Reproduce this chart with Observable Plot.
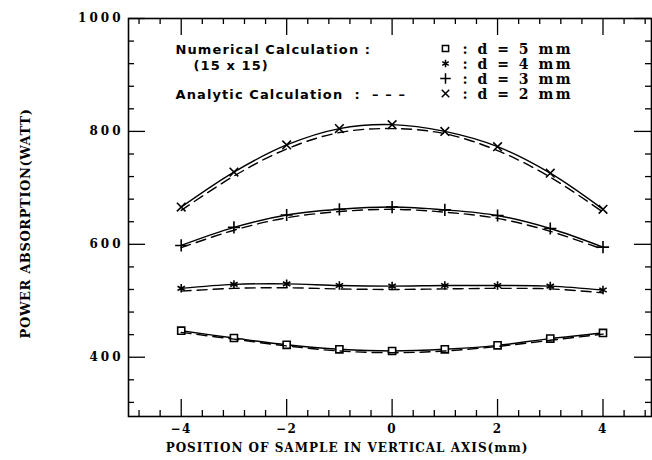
<!DOCTYPE html>
<html><head><meta charset="utf-8">
<script src="https://cdn.jsdelivr.net/npm/d3@7"></script>
<script src="https://cdn.jsdelivr.net/npm/@observablehq/plot@0.6"></script>
<style>
body{margin:0;background:#fff}
#chart{position:relative;width:652px;height:460px}
.lg-left text{letter-spacing:1.1px}
.lg-right text{letter-spacing:2.5px}
.ylab text{letter-spacing:3px}
g[aria-label="x-axis tick label"] text{letter-spacing:1.5px}
.xtitle text{letter-spacing:1px}
.ytitle text{letter-spacing:0.6px}
</style>
</head><body><div id="chart"></div>
<script>
// x positions (mm)
const positions = [-4, -3, -2, -1, 0, 1, 2, 3, 4];
// Numerical calculation (15 x 15)
const numD2 = [666, 728, 776, 805, 812, 800, 773, 726, 662];
const numD3 = [598, 630, 652, 662, 666, 661, 651, 628, 595];
const numD4 = [522, 529, 530, 527, 526, 527, 527, 526, 519];
const numD5 = [447, 434, 422, 414, 411, 414, 421, 433, 443];
// Analytic calculation
const anaD2 = [660, 721, 769, 798, 805, 796, 766, 719, 657];
const anaD3 = [594, 625, 647, 658, 662, 657, 646, 623, 591];
const anaD4 = [517, 522, 523, 521, 520, 521, 522, 521, 514];
const anaD5 = [444, 432, 420, 411, 408, 411, 419, 430, 441];
// legend
const dLabels = ["5", "4", "3", "2"];
const dSymbols = ["square", "asterisk", "plus", "times"];
// ticks
const xMajor = [-4, -2, 0, 2, 4];
const xMinor = [-4.8, -4.4, -3.6, -3.2, -2.8, -2.4, -1.6, -1.2, -0.8, -0.4, 0.4, 0.8, 1.2, 1.6, 2.4, 2.8, 3.2, 3.6, 4.4, 4.8];
const yMajor = [400, 600, 800, 1000];
const yMinor = [320, 360, 440, 480, 520, 560, 640, 680, 720, 760, 840, 880, 920, 960];
const xTitle = "POSITION OF SAMPLE IN VERTICAL AXIS(mm)";
const yTitle = "POWER ABSORPTION(WATT)";

const numSeries = {"5": numD5, "4": numD4, "3": numD3, "2": numD2};
const anaSeries = {"5": anaD5, "4": anaD4, "3": anaD3, "2": anaD2};
const numRows = [], anaRows = [];
dLabels.forEach((d, k) => {
  positions.forEach((x, i) => {
    numRows.push({x, y: numSeries[d][i], d, symbol: dSymbols[k]});
    anaRows.push({x, y: anaSeries[d][i], d});
  });
});

const W = 652, H = 460, ML = 128, MR = 1, MT = 18, MB = 44;
const FW = W - ML - MR, FH = H - MT - MB;
const xDom = [-5, 4.92], yDom = [295, 1000];
const tk = {stroke: "black", strokeWidth: 1.3};
const minus = d => d < 0 ? "\u2212" + Math.abs(d) : String(d);
const serif = "'DejaVu Serif', serif";
const sans = "'DejaVu Sans', sans-serif";
const common = {
  width: W, height: H,
  marginTop: MT, marginBottom: MB, marginLeft: ML, marginRight: MR,
  symbol: {type: "identity"}
};

// base layer: frame, inward ticks, axis labels, numerical curves and markers
const chart = Plot.plot({
  ...common,
  style: {fontFamily: serif, fontWeight: "bold", fontSize: "12px", color: "black", background: "white"},
  x: {domain: xDom, ticks: xMajor, tickSize: 0, tickPadding: 8, tickFormat: minus, label: null},
  y: {domain: yDom},
  marks: [
    Plot.frame({stroke: "black", strokeWidth: 1.6}),
    Plot.tickY(yMajor, {y: d => d, insetRight: FW - 17, ...tk}),
    Plot.tickX(xMajor, {x: d => d, insetTop: FH - 17, ...tk}),
    Plot.tickY(yMinor, {y: d => d, insetRight: FW - 6, ...tk}),
    Plot.tickX(xMinor, {x: d => d, insetTop: FH - 6, ...tk}),
    Plot.tickY(yMajor, {y: d => d, insetLeft: FW - 17, ...tk}),
    Plot.tickY(yMinor, {y: d => d, insetLeft: FW - 6, ...tk}),
    Plot.tickX(xMajor, {x: d => d, insetBottom: FH - 17, ...tk}),
    Plot.tickX(xMinor, {x: d => d, insetBottom: FH - 6, ...tk}),
    Plot.axisY(yMajor, {tickSize: 0, tickPadding: 5, tickFormat: d => String(d), label: null, fontSize: 12, className: "ylab"}),
    Plot.line(numRows, {x: "x", y: "y", z: "d", curve: "catmull-rom", stroke: "black", strokeWidth: 1.4}),
    Plot.dot(numRows, {x: "x", y: "y", symbol: "symbol", r: 4, stroke: "black", strokeWidth: 1.6, fill: d => d.symbol === "square" ? "white" : "none"})
  ]
});

// overlay layer: analytic curves, titles, legend
const overlay = Plot.plot({
  ...common,
  style: {fontFamily: serif, fontWeight: "bold", fontSize: "11px", color: "black", background: "transparent"},
  x: {domain: xDom, axis: null},
  y: {domain: yDom, axis: null},
  marks: [
    Plot.line(anaRows, {x: "x", y: "y", z: "d", curve: "catmull-rom", stroke: "black", strokeWidth: 1.4, strokeDasharray: "10,6"}),
    Plot.text([yTitle], {text: d => d, frameAnchor: "left", textAnchor: "middle", rotate: -90, dx: -103, dy: 6, fontSize: 13, className: "ytitle"}),
    Plot.text([xTitle], {text: d => d, frameAnchor: "bottom", textAnchor: "middle", dx: -43, dy: 35, fontSize: 12, className: "xtitle"}),
    Plot.text(["Numerical Calculation :"], {text: d => d, frameAnchor: "top-left", dx: 47, dy: 26, textAnchor: "start", fontFamily: sans, fontSize: 13, className: "lg-left"}),
    Plot.text(["(15 x 15)"], {text: d => d, frameAnchor: "top-left", dx: 65, dy: 42, textAnchor: "start", fontFamily: sans, fontSize: 13, className: "lg-left"}),
    Plot.text(["Analytic Calculation  :  \u2013 \u2013 \u2013"], {text: d => d, frameAnchor: "top-left", dx: 47, dy: 71, textAnchor: "start", fontFamily: sans, fontSize: 13, className: "lg-left"}),
    Plot.dot(dSymbols, {symbol: d => d, frameAnchor: "top-left", dx: 317, r: 3.5, stroke: "black", strokeWidth: 1.5, className: "lg-dot"}),
    Plot.text(dLabels, {text: d => `: d = ${d} mm`, frameAnchor: "top-left", dx: 334, textAnchor: "start", fontSize: 14, className: "lg-right"})
  ]
});
overlay.style.position = "absolute";
overlay.style.left = "0px";
overlay.style.top = "0px";
const host = document.getElementById("chart");
host.appendChild(chart);
host.appendChild(overlay);

// legend rows: stack each entry downward (layout only)
const dotDy = [30, 45, 60, 75], textDy = [26, 41, 56, 71];
overlay.querySelectorAll(".lg-dot path").forEach((p, i) => {
  p.setAttribute("transform", (p.getAttribute("transform") || "") + ` translate(0,${dotDy[i]})`);
});
overlay.querySelectorAll(".lg-right text").forEach((t, i) => {
  t.setAttribute("transform", (t.getAttribute("transform") || "") + ` translate(0,${textDy[i]})`);
});
</script>
</body></html>
